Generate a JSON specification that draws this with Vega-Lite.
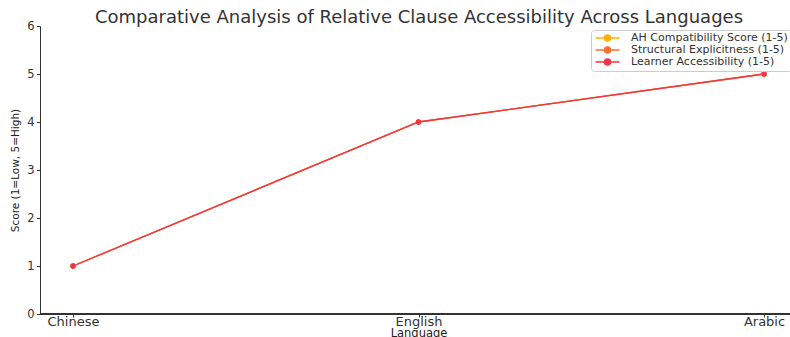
{
  "$schema": "https://vega.github.io/schema/vega-lite/v6.json",
  "width": 750,
  "height": 288,
  "autosize": {"type": "none"},
  "padding": {"left": 40, "top": 26, "right": 0, "bottom": 23},
  "background": "white",
  "title": {"text": "Comparative Analysis of Relative Clause Accessibility Across Languages", "font": "DejaVu Sans", "fontSize": 18, "fontWeight": "normal", "color": "#333333", "anchor": "middle", "offset": -6.5, "dx": 4},
  "config": {
    "font": "DejaVu Sans",
    "view": {"stroke": null},
    "axis": {"gridColor": "#cccccc", "gridDash": [2, 2], "gridWidth": 0.8, "domainColor": "#333333", "domainWidth": 1, "tickColor": "#333333", "labelFont": "DejaVu Sans", "labelColor": "#333333", "titleFont": "DejaVu Sans", "titleFontWeight": "normal", "titleColor": "#222222"}
  },
  "data": {
    "values": [
      {"Language": "Chinese", "Metric": "AH Compatibility Score (1-5)", "Score": 1},
      {"Language": "English", "Metric": "AH Compatibility Score (1-5)", "Score": 4},
      {"Language": "Arabic", "Metric": "AH Compatibility Score (1-5)", "Score": 5},
      {"Language": "Chinese", "Metric": "Structural Explicitness (1-5)", "Score": 1},
      {"Language": "English", "Metric": "Structural Explicitness (1-5)", "Score": 4},
      {"Language": "Arabic", "Metric": "Structural Explicitness (1-5)", "Score": 5},
      {"Language": "Chinese", "Metric": "Learner Accessibility (1-5)", "Score": 1},
      {"Language": "English", "Metric": "Learner Accessibility (1-5)", "Score": 4},
      {"Language": "Arabic", "Metric": "Learner Accessibility (1-5)", "Score": 5}
    ]
  },
  "layer": [
    {
      "mark": {"type": "rule", "color": "#333333", "strokeWidth": 1},
      "encoding": {"y": {"datum": 0, "type": "quantitative", "scale": {"domain": [0, 6], "nice": false}}}
    },
    {
      "encoding": {
        "x": {"field": "Language", "type": "nominal", "sort": ["Chinese", "English", "Arabic"],
          "scale": {"type": "point", "range": [33, 724], "padding": 0},
          "axis": {"title": "Language", "labelAngle": 0, "domain": false, "tickSize": 3, "labelFontSize": 13, "labelPadding": -2, "titleFontSize": 11.5, "titlePadding": -1}},
        "y": {"field": "Score", "type": "quantitative", "scale": {"domain": [0, 6], "nice": false},
          "axis": {"title": "Score (1=Low, 5=High)", "values": [0, 1, 2, 3, 4, 5, 6], "tickSize": 3.5, "labelFontSize": 11.5, "labelPadding": 2.5, "titleFontSize": 10.5, "titlePadding": 6}},
        "color": {"field": "Metric", "type": "nominal",
          "sort": ["AH Compatibility Score (1-5)", "Structural Explicitness (1-5)", "Learner Accessibility (1-5)"],
          "scale": {"domain": ["AH Compatibility Score (1-5)", "Structural Explicitness (1-5)", "Learner Accessibility (1-5)"], "range": ["#ffb000", "#fe6f2c", "#f0344d"]},
          "legend": {"title": null, "orient": "none", "legendX": 551, "legendY": 4, "fillColor": "white", "strokeColor": "#cccccc", "cornerRadius": 3, "padding": 2.5, "labelFontSize": 11, "labelColor": "#333333", "rowPadding": -2, "symbolSize": 64, "symbolOffset": 8.5, "symbolType": "M-3,0L3,0M-0.75,0A0.75,0.75 0 1,1 0.75,0A0.75,0.75 0 1,1 -0.75,0Z", "symbolStrokeWidth": 1.5, "labelOffset": 18}}
      },
      "layer": [
        {"mark": {"type": "line", "strokeWidth": 1.3}},
        {"mark": {"type": "point", "filled": true, "size": 28, "opacity": 1}}
      ]
    }
  ]
}
